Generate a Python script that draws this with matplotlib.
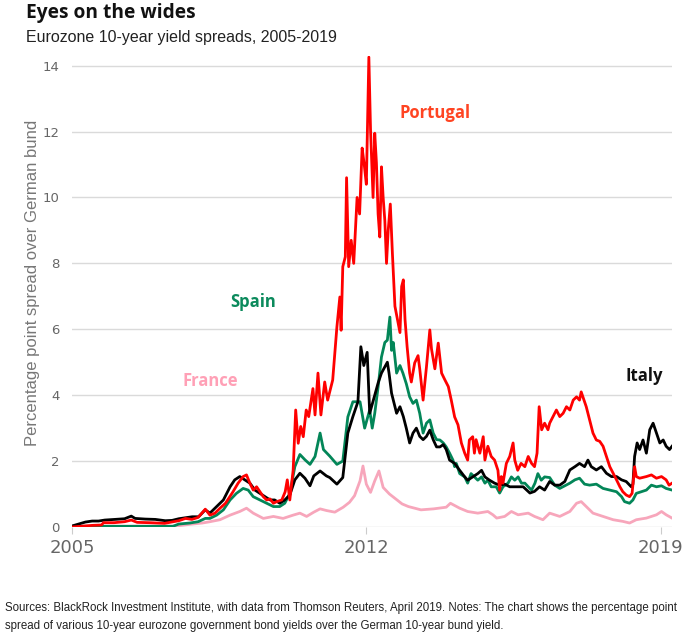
import matplotlib
matplotlib.use("Agg")
import matplotlib.pyplot as plt

# Eurozone 10-year yield spreads over the German bund (percentage points)
portugal_t = [2005.00, 2005.30, 2005.50, 2005.70, 2005.75, 2006.00, 2006.25, 2006.41, 2006.55, 2006.85,
              2007.20, 2007.54, 2007.70, 2007.85, 2008.00, 2008.17, 2008.28, 2008.40, 2008.52, 2008.65,
              2008.83, 2008.95, 2009.07, 2009.15, 2009.23, 2009.31, 2009.39, 2009.47, 2009.55, 2009.63,
              2009.71, 2009.79, 2009.87, 2009.99, 2010.07, 2010.12, 2010.18, 2010.26, 2010.32, 2010.38,
              2010.44, 2010.50, 2010.57, 2010.63, 2010.73, 2010.78, 2010.85, 2010.92, 2011.01, 2011.08,
              2011.20, 2011.30, 2011.37, 2011.40, 2011.44, 2011.50, 2011.53, 2011.58, 2011.64, 2011.70,
              2011.78, 2011.84, 2011.90, 2011.95, 2012.00, 2012.06, 2012.10, 2012.16, 2012.20, 2012.24,
              2012.28, 2012.32, 2012.36, 2012.40, 2012.44, 2012.48, 2012.52, 2012.57, 2012.62, 2012.68,
              2012.74, 2012.80, 2012.84, 2012.88, 2012.92, 2012.97, 2013.03, 2013.07, 2013.15, 2013.23,
              2013.27, 2013.35, 2013.43, 2013.51, 2013.55, 2013.63, 2013.71, 2013.79, 2013.87, 2013.95,
              2014.02, 2014.10, 2014.18, 2014.26, 2014.34, 2014.41, 2014.45, 2014.53, 2014.57, 2014.61,
              2014.70, 2014.78, 2014.82, 2014.89, 2014.97, 2015.05, 2015.13, 2015.17, 2015.21, 2015.25,
              2015.33, 2015.41, 2015.49, 2015.53, 2015.60, 2015.68, 2015.77, 2015.85, 2015.93, 2016.00,
              2016.06, 2016.11, 2016.17, 2016.24, 2016.32, 2016.36, 2016.44, 2016.52, 2016.60, 2016.68,
              2016.76, 2016.84, 2016.92, 2017.00, 2017.07, 2017.11, 2017.15, 2017.23, 2017.31, 2017.39,
              2017.47, 2017.55, 2017.63, 2017.71, 2017.79, 2017.87, 2017.95, 2018.03, 2018.10, 2018.18,
              2018.26, 2018.32, 2018.38, 2018.42, 2018.50, 2018.66, 2018.78, 2018.90, 2019.02, 2019.13,
              2019.20, 2019.27]
portugal_v = [0.00, 0.03, 0.05, 0.06, 0.13, 0.13, 0.16, 0.21, 0.14, 0.13,
              0.11, 0.19, 0.26, 0.23, 0.29, 0.54, 0.36, 0.42, 0.57, 0.72,
              1.07, 1.33, 1.53, 1.58, 1.33, 1.12, 1.22, 1.07, 0.92, 0.82,
              0.85, 0.72, 0.77, 0.82, 1.07, 1.43, 0.82, 1.73, 3.55, 2.54,
              3.05, 2.74, 3.55, 3.35, 4.20, 3.40, 4.67, 3.40, 4.40, 3.85,
              4.46, 6.07, 6.98, 5.97, 7.90, 8.20, 10.60, 7.90, 8.70, 8.00,
              10.00, 9.50, 11.50, 11.00, 10.40, 14.26, 12.05, 10.00, 11.95, 11.05,
              9.50, 8.80, 10.93, 10.00, 9.30, 8.00, 9.00, 9.80, 8.30, 6.70,
              6.30, 5.90, 7.30, 7.50, 6.30, 5.47, 4.67, 4.40, 4.98, 5.20,
              4.80, 3.85, 4.86, 5.98, 5.40, 4.80, 5.58, 4.67, 4.46, 4.26,
              3.85, 3.34, 3.10, 2.55, 2.24, 2.03, 2.64, 2.74, 2.24, 2.65,
              2.24, 2.74, 2.03, 2.45, 2.14, 2.03, 1.72, 1.12, 1.53, 1.33,
              1.93, 2.14, 2.55, 2.03, 1.72, 1.93, 1.83, 2.14, 1.93, 1.83,
              2.24, 3.65, 2.95, 3.15, 2.95, 3.15, 3.35, 3.55, 3.35, 3.45,
              3.65, 3.55, 3.85, 3.95, 3.85, 4.10, 3.95, 3.65, 3.25, 2.85,
              2.64, 2.60, 2.45, 2.14, 1.83, 1.63, 1.43, 1.22, 1.07, 0.97,
              0.92, 1.02, 1.83, 1.53, 1.48, 1.53, 1.58, 1.48, 1.53, 1.43,
              1.27, 1.33]

italy_t = [2005.00, 2005.16, 2005.32, 2005.48, 2005.63, 2005.78, 2006.02, 2006.25, 2006.41, 2006.50,
           2006.74, 2006.98, 2007.22, 2007.38, 2007.54, 2007.70, 2007.86, 2008.01, 2008.17, 2008.28,
           2008.44, 2008.60, 2008.76, 2008.87, 2008.99, 2009.11, 2009.23, 2009.35, 2009.47, 2009.59,
           2009.71, 2009.82, 2009.94, 2010.06, 2010.18, 2010.30, 2010.42, 2010.54, 2010.66, 2010.75,
           2010.90, 2011.05, 2011.13, 2011.30, 2011.44, 2011.56, 2011.68, 2011.80, 2011.87, 2011.94,
           2012.02, 2012.08, 2012.20, 2012.28, 2012.36, 2012.44, 2012.50, 2012.54, 2012.60, 2012.72,
           2012.80, 2012.88, 2012.95, 2013.03, 2013.11, 2013.19, 2013.27, 2013.35, 2013.43, 2013.51,
           2013.59, 2013.67, 2013.75, 2013.83, 2013.90, 2013.98, 2014.10, 2014.22, 2014.34, 2014.41,
           2014.53, 2014.65, 2014.74, 2014.82, 2014.93, 2015.05, 2015.17, 2015.29, 2015.41, 2015.57,
           2015.73, 2015.89, 2016.00, 2016.12, 2016.24, 2016.36, 2016.48, 2016.60, 2016.72, 2016.84,
           2016.96, 2017.07, 2017.19, 2017.27, 2017.35, 2017.47, 2017.59, 2017.71, 2017.83, 2017.95,
           2018.07, 2018.18, 2018.30, 2018.34, 2018.38, 2018.44, 2018.50, 2018.58, 2018.66, 2018.74,
           2018.82, 2018.90, 2018.98, 2019.06, 2019.13, 2019.21, 2019.27]
italy_v = [0.03, 0.09, 0.15, 0.18, 0.18, 0.21, 0.23, 0.25, 0.33, 0.26,
           0.24, 0.23, 0.19, 0.20, 0.25, 0.28, 0.31, 0.31, 0.52, 0.42,
           0.62, 0.82, 1.22, 1.43, 1.53, 1.43, 1.33, 1.12, 1.02, 0.92,
           0.82, 0.82, 0.72, 0.82, 0.97, 1.43, 1.63, 1.48, 1.25, 1.55,
           1.70, 1.55, 1.50, 1.30, 1.50, 2.85, 3.35, 3.80, 5.47, 4.90,
           5.30, 3.45, 4.00, 4.37, 4.67, 4.86, 5.00, 4.67, 4.06, 3.45,
           3.65, 3.35, 3.00, 2.55, 2.85, 3.00, 2.75, 2.65, 2.75, 2.94,
           2.65, 2.43, 2.43, 2.50, 2.35, 2.03, 1.93, 1.72, 1.52, 1.42,
           1.52, 1.62, 1.72, 1.52, 1.42, 1.33, 1.27, 1.30, 1.22, 1.22,
           1.22, 1.03, 1.08, 1.22, 1.12, 1.38, 1.27, 1.27, 1.38, 1.73,
           1.83, 1.93, 1.83, 2.03, 1.83, 1.73, 1.83, 1.63, 1.53, 1.53,
           1.43, 1.38, 1.22, 1.30, 2.14, 2.55, 2.35, 2.64, 2.24, 2.95,
           3.15, 2.85, 2.55, 2.64, 2.45, 2.35, 2.45]

spain_t = [2005.00, 2007.40, 2007.54, 2007.80, 2008.00, 2008.17, 2008.28, 2008.44, 2008.60, 2008.76,
           2008.91, 2009.07, 2009.19, 2009.31, 2009.47, 2009.63, 2009.79, 2009.94, 2010.06, 2010.18,
           2010.30, 2010.42, 2010.54, 2010.66, 2010.78, 2010.90, 2010.98, 2011.13, 2011.30, 2011.44,
           2011.56, 2011.68, 2011.85, 2011.96, 2012.08, 2012.14, 2012.20, 2012.28, 2012.36, 2012.44,
           2012.50, 2012.56, 2012.60, 2012.64, 2012.72, 2012.80, 2012.87, 2012.95, 2013.03, 2013.11,
           2013.19, 2013.27, 2013.35, 2013.43, 2013.51, 2013.59, 2013.67, 2013.75, 2013.83, 2013.90,
           2013.98, 2014.06, 2014.10, 2014.14, 2014.22, 2014.34, 2014.41, 2014.49, 2014.57, 2014.65,
           2014.74, 2014.82, 2014.89, 2014.97, 2015.09, 2015.17, 2015.25, 2015.37, 2015.45, 2015.53,
           2015.61, 2015.69, 2015.77, 2015.85, 2015.93, 2016.01, 2016.08, 2016.16, 2016.24, 2016.36,
           2016.48, 2016.60, 2016.72, 2016.84, 2016.96, 2017.07, 2017.19, 2017.31, 2017.47, 2017.63,
           2017.79, 2017.95, 2018.07, 2018.14, 2018.26, 2018.34, 2018.42, 2018.54, 2018.66, 2018.78,
           2018.90, 2019.02, 2019.13, 2019.27]
spain_v = [0.02, 0.02, 0.09, 0.12, 0.16, 0.26, 0.26, 0.36, 0.52, 0.82,
           1.02, 1.17, 1.12, 0.92, 0.82, 0.72, 0.62, 0.62, 0.72, 1.02,
           1.83, 2.20, 2.04, 1.90, 2.14, 2.85, 2.35, 2.15, 1.90, 2.00,
           3.34, 3.80, 3.80, 3.00, 3.55, 3.00, 3.45, 4.25, 5.16, 5.60,
           5.67, 6.37, 5.36, 5.60, 4.67, 4.90, 4.67, 4.35, 3.95, 3.75,
           3.85, 3.45, 2.85, 3.15, 3.25, 2.85, 2.65, 2.64, 2.55, 2.43,
           2.24, 2.03, 1.83, 1.93, 1.62, 1.52, 1.33, 1.62, 1.52, 1.42,
           1.52, 1.33, 1.42, 1.22, 1.22, 1.03, 1.22, 1.33, 1.52, 1.42,
           1.52, 1.33, 1.33, 1.22, 1.12, 1.33, 1.62, 1.42, 1.52, 1.50,
           1.27, 1.17, 1.25, 1.33, 1.43, 1.48, 1.30, 1.27, 1.30, 1.17,
           1.12, 1.07, 0.92, 0.77, 0.72, 0.82, 1.02, 1.07, 1.12, 1.27,
           1.22, 1.25, 1.17, 1.12]

france_t = [2005.00, 2007.50, 2007.80, 2008.10, 2008.28, 2008.52, 2008.76, 2008.99, 2009.15, 2009.31,
            2009.55, 2009.79, 2010.02, 2010.26, 2010.42, 2010.58, 2010.75, 2010.90, 2011.05, 2011.25,
            2011.45, 2011.60, 2011.72, 2011.85, 2011.92, 2012.00, 2012.10, 2012.20, 2012.30, 2012.40,
            2012.55, 2012.70, 2012.85, 2013.00, 2013.30, 2013.60, 2013.90, 2014.00, 2014.22, 2014.41,
            2014.65, 2014.89, 2015.01, 2015.10, 2015.29, 2015.45, 2015.61, 2015.85, 2016.00, 2016.20,
            2016.36, 2016.60, 2016.84, 2017.00, 2017.11, 2017.23, 2017.39, 2017.63, 2017.87, 2018.10,
            2018.26, 2018.42, 2018.66, 2018.90, 2019.02, 2019.13, 2019.27]
france_v = [0.02, 0.03, 0.08, 0.12, 0.16, 0.22, 0.36, 0.47, 0.57, 0.42,
            0.26, 0.32, 0.26, 0.36, 0.42, 0.32, 0.45, 0.55, 0.50, 0.45,
            0.60, 0.75, 0.95, 1.40, 1.85, 1.30, 1.05, 1.40, 1.70, 1.20,
            1.00, 0.85, 0.70, 0.62, 0.52, 0.55, 0.60, 0.72, 0.57, 0.47,
            0.42, 0.47, 0.37, 0.27, 0.32, 0.47, 0.37, 0.42, 0.32, 0.22,
            0.42, 0.32, 0.47, 0.72, 0.77, 0.62, 0.42, 0.32, 0.22, 0.17,
            0.12, 0.22, 0.27, 0.37, 0.47, 0.37, 0.27]

year_ticks = [2005, 2012, 2019]
value_ticks = [0, 2, 4, 6, 8, 10, 12, 14]

fig = plt.figure(figsize=(6.87, 6.34), dpi=100)
ax = fig.add_axes([0.1048, 0.1688, 0.8734, 0.7432])

ax.plot(france_t, france_v, color='#f7a6bb', lw=2.0)
ax.plot(spain_t, spain_v, color='#038658', lw=2.0)
ax.plot(italy_t, italy_v, color='#000000', lw=2.0)
ax.plot(portugal_t, portugal_v, color='#ff0000', lw=2.0)

ax.set_xlim(2005, 2019.27)
ax.set_ylim(0, 14.3)
ax.set_yticks(value_ticks)
ax.set_xticks(year_ticks)
ax.set_xticklabels([str(y) for y in year_ticks])
ax.yaxis.grid(True, color='#dadada', lw=1)
ax.set_axisbelow(True)
for s in ax.spines.values():
    s.set_visible(False)
ax.tick_params(axis='y', length=0, pad=9, labelsize=9.5, labelcolor='#666666')
ax.tick_params(axis='x', length=5, color='#cccccc', pad=4, labelsize=13, labelcolor='#666666')

# series labels
ax.text(2013.63, 12.56, 'Portugal', color='#ff4422', fontsize=12, fontweight='bold',
        family='Open Sans', ha='center', va='center')
ax.text(2009.3, 6.83, 'Spain', color='#0b8a5c', fontsize=12, fontweight='bold',
        family='Open Sans', ha='center', va='center')
ax.text(2008.28, 4.43, 'France', color='#ffa0b6', fontsize=12, fontweight='bold',
        family='Open Sans', ha='center', va='center')
ax.text(2018.62, 4.58, 'Italy', color='#111111', fontsize=12, fontweight='bold',
        family='Open Sans', ha='center', va='center')

fig.text(33 / 687, 0.5536, 'Percentage point spread over German bund', rotation=90,
         ha='center', va='center', fontsize=12, color='#777777', family='Liberation Sans')

fig.text(0.0378, 0.979, 'Eyes on the wides', fontsize=13.8, fontweight='bold',
         family='Open Sans', va='center', ha='left', color='#111111')
fig.text(0.0378, 0.9416, 'Eurozone 10-year yield spreads, 2005-2019', fontsize=11.5,
         family='Liberation Sans', va='center', ha='left', color='#222222')

fig.text(0.0073, 0.041, 'Sources: BlackRock Investment Institute, with data from Thomson Reuters, '
         'April 2019. Notes: The chart shows the percentage point', fontsize=8.3,
         family='Liberation Sans', va='center', ha='left', color='#222222')
fig.text(0.0073, 0.0126, 'spread of various 10-year eurozone government bond yields over the '
         'German 10-year bund yield.', fontsize=8.3,
         family='Liberation Sans', va='center', ha='left', color='#222222')

fig.savefig('out.png', dpi=100)
